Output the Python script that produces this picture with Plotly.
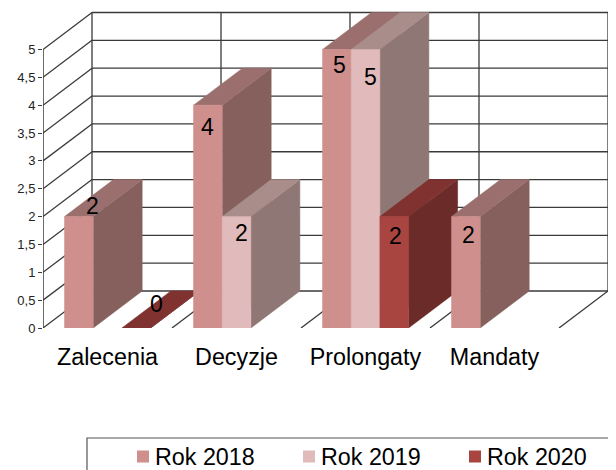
import plotly.graph_objects as go

categories = ['Zalecenia', 'Decyzje', 'Prolongaty', 'Mandaty']
series_names = ['Rok 2018', 'Rok 2019', 'Rok 2020']
rok_2018 = [2, 4, 5, 2]
rok_2019 = [None, 2, 5, None]
rok_2020 = [0, None, 2, None]
y_ticks = [0, 0.5, 1, 1.5, 2, 2.5, 3, 3.5, 4, 4.5, 5]
y_labels = ['0', '0,5', '1', '1,5', '2', '2,5', '3', '3,5', '4', '4,5', '5']

series_values = [rok_2018, rok_2019, rok_2020]

# front, side, top
colors = [('#CE8F8D', '#85605D', '#9B6F6E'),
          ('#E1BBBB', '#8F7775', '#A98D8B'),
          ('#A84541', '#6B2B29', '#7F3230')]
grid_color = '#3A3A3A'

# the page body keeps its 8px margin, so the figure is 8px smaller on the top and left
W, H = 608, 462
left, bottom = 35, 320
cat_px, unit_px = 129, 55.7

# oblique depth in data units
dx = 49 / cat_px
dy = 37 / unit_px
bar_w = 28.7 / cat_px
gap = 21.5 / cat_px

# label nudges in px, (category, series): (x, y)
label_shift = {(0, 0): (14, 11), (1, 0): (0, -22), (2, 0): (3, -15), (3, 0): (3, -18),
               (1, 1): (5, -16), (2, 1): (5, -27),
               (0, 2): (20, 24), (2, 2): (1, -19)}

# legend row, px inside the figure
legend_swatch_x = [129, 295, 461]
legend_mid_y = 448.5

n = len(categories)
fig = go.Figure()


def add_lines(xs, ys, width=1.3):
    fig.add_trace(go.Scatter(x=xs, y=ys, mode='lines', showlegend=False, hoverinfo='skip',
                             line=dict(color=grid_color, width=width)))


def add_face(xs, ys, color):
    fig.add_trace(go.Scatter(x=xs, y=ys, mode='lines', fill='toself', fillcolor=color,
                             showlegend=False, hoverinfo='skip', line=dict(color=color, width=0.5)))


# walls and floor
xs, ys = [], []
for v in y_ticks:
    xs += [dx, n + dx, None]
    ys += [v + dy, v + dy, None]
    xs += [0, dx, None]
    ys += [v, v + dy, None]
for i in range(n + 1):
    xs += [i + dx, i + dx, None]
    ys += [dy, 5 + dy, None]
    if i > 0:
        xs += [i, i + dx, None]
        ys += [0, dy, None]
add_lines(xs, ys)
add_lines([0, 0], [0, 5], 1.5)

# bars, left to right so each one covers the side of the previous
annotations = []
for c in range(n):
    for s, values in enumerate(series_values):
        v = values[c]
        if v is None:
            continue
        x0 = c + gap + s * bar_w
        x1 = x0 + bar_w
        front, side, top = colors[s]
        add_face([x1, x1 + dx, x1 + dx, x1, x1], [0, dy, v + dy, v, 0], side)
        add_face([x0, x1, x1 + dx, x0 + dx, x0], [v, v, v + dy, v + dy, v], top)
        if v > 0:
            add_face([x0, x1, x1, x0, x0], [0, 0, v, v, 0], front)
        sx, sy = label_shift[(c, s)]
        annotations.append(dict(x=(x0 + x1) / 2, y=v, text=str(v), showarrow=False,
                                xshift=sx, yshift=sy, font=dict(size=23, color='black')))

plot_w = W - left


def paper_x(px):
    return (px - left) / plot_w


def paper_y(px):
    return (bottom - px) / bottom


# legend box runs off the page on the right and bottom, like the reference
shapes = [dict(type='rect', xref='paper', yref='paper',
               x0=paper_x(79), x1=paper_x(W + 20), y0=paper_y(430), y1=paper_y(H + 20),
               line=dict(color='#555555', width=1.2), fillcolor='rgba(0,0,0,0)')]
for s, name in enumerate(series_names):
    sw = legend_swatch_x[s]
    shapes.append(dict(type='rect', xref='paper', yref='paper',
                       x0=paper_x(sw), x1=paper_x(sw + 12),
                       y0=paper_y(legend_mid_y - 6), y1=paper_y(legend_mid_y + 6),
                       line=dict(width=0), fillcolor=colors[s][0]))
    annotations.append(dict(xref='paper', yref='paper', x=paper_x(sw + 18), y=paper_y(legend_mid_y),
                            xanchor='left', yanchor='middle', xshift=-2, text=name, showarrow=False,
                            font=dict(size=23.3, color='black')))

fig.update_layout(
    width=W, height=H,
    margin=dict(l=left, r=0, t=0, b=H - bottom, pad=0, autoexpand=False),
    paper_bgcolor='white', plot_bgcolor='white',
    font=dict(family='Liberation Sans, Arial, sans-serif', color='black'),
    annotations=annotations,
    showlegend=False,
    shapes=shapes,
    xaxis=dict(range=[0, plot_w / cat_px], tickvals=[i + 0.5 for i in range(n)], ticktext=categories,
               showgrid=False, zeroline=False, showline=False, ticks='outside', ticklen=8,
               tickcolor='rgba(0,0,0,0)', tickfont=dict(size=23.3, color='black')),
    yaxis=dict(range=[0, bottom / unit_px], tickvals=y_ticks, ticktext=y_labels,
               showgrid=False, zeroline=False, showline=False, ticks='outside', ticklen=4,
               tickcolor=grid_color, tickfont=dict(size=13, color='#222222')),
)

fig.write_html("out.html")
